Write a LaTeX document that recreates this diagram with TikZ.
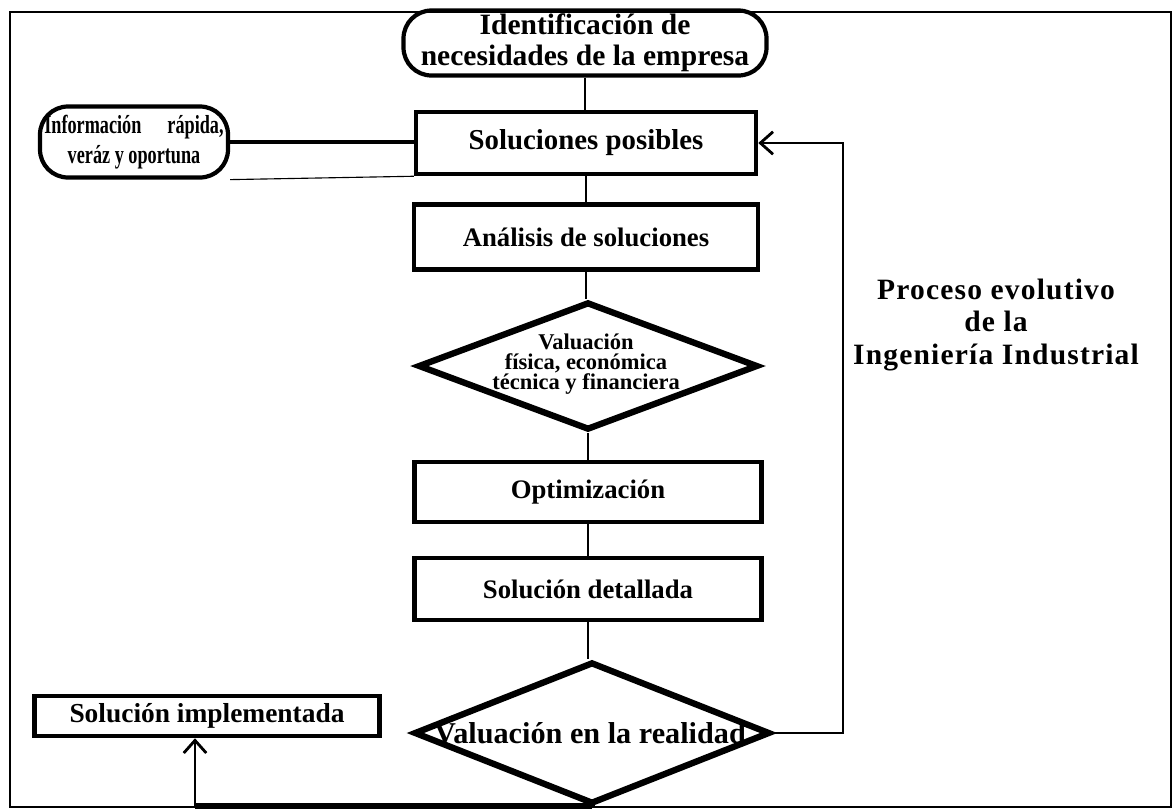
\documentclass[tikz,border=0pt]{standalone}
\usepackage{fontspec}
\setmainfont{Liberation Serif}
\newfontfamily\condfont[FakeStretch=0.7]{Liberation Serif}
\newfontfamily\widefont[LetterSpace=4]{Liberation Serif}
\usetikzlibrary{shapes.geometric,arrows.meta}
\begin{document}
\begin{tikzpicture}[x=0.025cm,y=-0.025cm,
  boxfont/.style={font=\bfseries\fontsize{19}{20}\selectfont},
  stepbox/.style={draw,line width=3.2pt,inner sep=0pt,boxfont},
  roundbox/.style={draw,line width=3pt,rounded corners=0.7cm,inner sep=0pt,align=center},
  decision/.style={draw,diamond,line width=4.5pt,inner sep=0pt},
  link/.style={line width=2pt},
  tip/.style={-{Straight Barb[length=9pt,width=16pt,line width=2pt]}}
]
\useasboundingbox (0,0) rectangle (1174,811);
% outer frame
\draw[line width=1pt] (10,12) rectangle (1171,807);

% nodes of the main column
\node[roundbox,minimum width=363*0.025cm,minimum height=65*0.025cm,
  font=\bfseries\fontsize{21}{22}\selectfont] (need) at (585,43)
  {Identificación de\\necesidades de la empresa};
\node[roundbox,minimum width=188*0.025cm,minimum height=71*0.025cm,
  font=\condfont\bfseries\fontsize{18.5}{21}\selectfont] (info) at (134,142)
  {Información\quad rápida,\\veráz y oportuna};
\node[stepbox,minimum width=340*0.025cm,minimum height=62*0.025cm,
  font=\bfseries\fontsize{20.5}{21}\selectfont] (sol) at (586,143) {Soluciones posibles};
\node[stepbox,minimum width=344*0.025cm,minimum height=65*0.025cm] (ana) at (586,237) {Análisis de soluciones};
\node[decision,minimum width=340*0.025cm,minimum height=128*0.025cm] (d1) at (588,366) {};
\node[align=center,font=\bfseries\fontsize{16}{14.5}\selectfont] (d1t) at (586,364)
  {Valuación\\física, económica\\técnica y financiera};
\node[stepbox,minimum width=347*0.025cm,minimum height=60*0.025cm] (opt) at (588,492) {Optimización};
\node[stepbox,minimum width=347*0.025cm,minimum height=62*0.025cm] (det) at (588,589) {Solución detallada};
\node[decision,minimum width=356*0.025cm,minimum height=142*0.025cm] (d2) at (592,733) {};
\node[font=\bfseries\fontsize{21.5}{22}\selectfont] (d2t) at (590,733) {Valuación en la realidad};
\node[stepbox,minimum width=345*0.025cm,minimum height=40*0.025cm,
  font=\bfseries\fontsize{19.5}{20}\selectfont] (impl) at (207,716) {Solución implementada};

% caption on the right
\node[align=center,font=\widefont\bfseries\fontsize{21}{23}\selectfont] (title) at (996,325)
  {Proceso evolutivo\\de la\\Ingeniería Industrial};

% connectors
\coordinate (rt) at (843,0);
\coordinate (bl) at (195,806);
\draw[link] (need) -- (need |- sol.north);
\draw[link,line width=2.5pt] (info.east) -- (sol.west |- info.east);
\draw[line width=0.8pt] (info.south east) -- (sol.south west);
\draw[link] (sol) -- (ana);
\draw[link] (ana.south) -- (ana.south |- d1.north);
\draw[link] (d1.south) -- (d1.south |- opt.north);
\draw[link] (opt) -- (det);
\draw[link] (det.south) -- (det.south |- d2.north);
\draw[link,tip] (d2.east) -- (d2.east -| rt) -- (sol.east -| rt) -- (sol.east);
\draw[line width=4pt] (d2.south) -- (d2.south |- bl) -- (bl);
\draw[link,tip] (bl) -- (bl |- impl.south);
\end{tikzpicture}
\end{document}
